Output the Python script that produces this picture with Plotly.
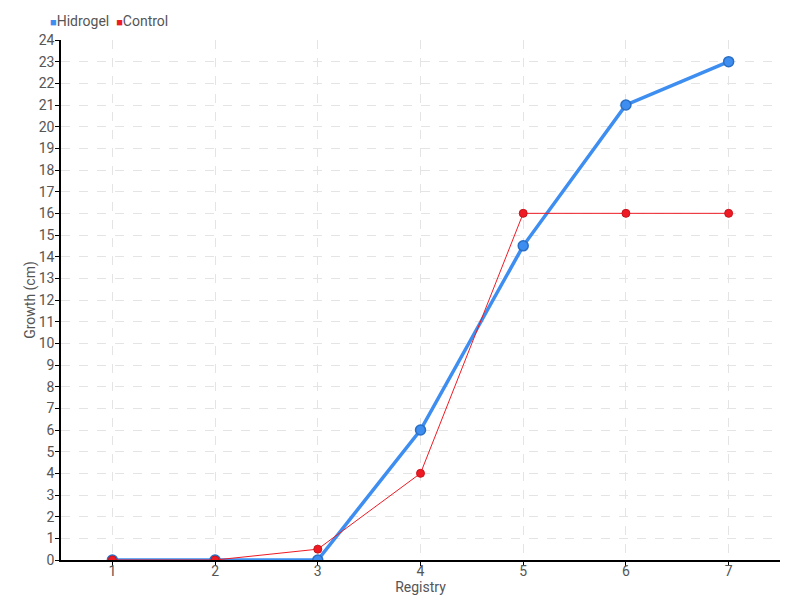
import plotly.graph_objs as go

registry = ["1", "2", "3", "4", "5", "6", "7"]
hidrogel = [0, 0, 0, 6, 14.5, 21, 23]
control = [0, 0, 0.5, 4, 16, 16, 16]

blue = "#3d8ef0"
red = "#ee1b24"
font_family = "Roboto, sans-serif"
text_color = "#555555"

fig = go.Figure()

fig.add_trace(go.Scatter(x=registry, y=hidrogel, mode='lines+markers', name='Hidrogel',
                         line=dict(color=blue, width=3.5),
                         marker=dict(size=10, color=blue, line=dict(color="#2a6fc4", width=1.5))))
fig.add_trace(go.Scatter(x=registry, y=control, mode='lines+markers', name='Control',
                         line=dict(color=red, width=1),
                         marker=dict(size=8, color=red, line=dict(color="#c8141c", width=1))))

# compact legend with small square swatches
legend_text = (f"<span style='color:{blue};font-size:11px'>■</span>Hidrogel  "
               f"<span style='color:{red};font-size:11px'>■</span>Control")
fig.add_annotation(text=legend_text, xref='paper', yref='paper', x=-0.018, y=1.0,
                   xanchor='left', yanchor='bottom', yshift=9, showarrow=False,
                   font=dict(size=14, color=text_color))

axis_style = dict(showline=True, linecolor="black", linewidth=1.5,
                  ticks="outside", ticklen=4, tickcolor="black",
                  showgrid=True, gridcolor="#e4e4e4", griddash="dash",
                  tickfont=dict(size=14, color=text_color), zeroline=False, automargin=False)

fig.update_xaxes(type='category', range=[-0.5, 6.5], ticklabelstandoff=-7,
                 title=dict(text="Registry", standoff=0, font=dict(size=14, color=text_color)),
                 **axis_style)
fig.update_yaxes(range=[0, 24], dtick=1, ticklabelstandoff=-2,
                 title=dict(text="Growth (cm)", standoff=0, font=dict(size=14, color=text_color)),
                 **axis_style)

# page shows the figure with an 8px offset, margins compensate
fig.update_layout(
    width=800, height=600,
    plot_bgcolor="white", paper_bgcolor="white",
    font=dict(family=font_family, color=text_color),
    margin=dict(l=53, r=28, t=32, b=48),
    showlegend=False,
)

fig.write_html("out.html")
